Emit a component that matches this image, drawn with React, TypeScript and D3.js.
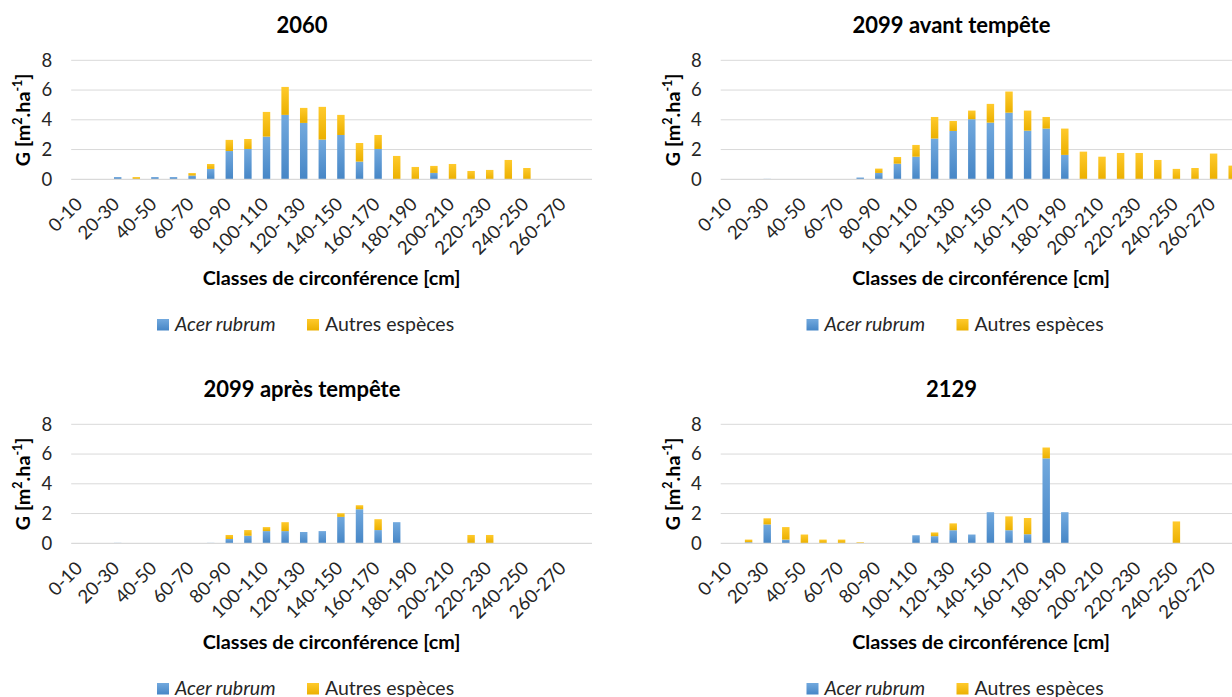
import { useEffect, useRef } from 'react';
import * as d3 from 'd3';

const categories = [
  '0-10', '10-20', '20-30', '30-40', '40-50', '50-60', '60-70', '70-80', '80-90', '90-100',
  '100-110', '110-120', '120-130', '130-140', '140-150', '150-160', '160-170', '170-180',
  '180-190', '190-200', '200-210', '210-220', '220-230', '230-240', '240-250', '250-260',
  '260-270', '270-280',
];

const yTicks = [0, 2, 4, 6, 8];

// G [m².ha-1] per circumference class
const acer2060 = [0, 0, 0.15, 0, 0.15, 0.15, 0.25, 0.7, 1.9, 2.04, 2.87, 4.33, 3.79, 2.67, 2.98, 1.19, 2.04, 0, 0, 0.43, 0, 0, 0, 0, 0, 0, 0, 0];
const autres2060 = [0, 0, 0, 0.15, 0, 0, 0.17, 0.33, 0.75, 0.67, 1.66, 1.88, 1.01, 2.2, 1.35, 1.25, 0.94, 1.57, 0.83, 0.47, 1.03, 0.56, 0.63, 1.3, 0.76, 0, 0, 0];

const acerAvant = [0, 0, 0.03, 0, 0, 0, 0, 0.12, 0.43, 1.05, 1.52, 2.74, 3.25, 4.04, 3.81, 4.48, 3.27, 3.41, 1.64, 0, 0, 0, 0, 0, 0, 0, 0, 0];
const autresAvant = [0, 0, 0, 0, 0, 0, 0, 0, 0.29, 0.45, 0.79, 1.45, 0.67, 0.58, 1.26, 1.42, 1.35, 0.78, 1.77, 1.86, 1.52, 1.77, 1.77, 1.3, 0.7, 0.76, 1.73, 0.92];

const acerApres = [0, 0, 0.03, 0, 0, 0, 0, 0.03, 0.29, 0.51, 0.82, 0.82, 0.76, 0.82, 1.78, 2.29, 0.89, 1.42, 0, 0, 0, 0, 0, 0, 0, 0, 0, 0];
const autresApres = [0, 0, 0, 0, 0, 0, 0, 0, 0.27, 0.38, 0.27, 0.6, 0, 0, 0.24, 0.27, 0.73, 0, 0, 0, 0, 0.56, 0.56, 0, 0, 0, 0, 0];

const acer2129 = [0, 0.07, 1.27, 0.25, 0, 0, 0, 0, 0, 0, 0.54, 0.48, 0.88, 0.59, 2.09, 0.88, 0.61, 5.71, 2.09, 0, 0, 0, 0, 0, 0, 0, 0, 0];
const autres2129 = [0, 0.18, 0.41, 0.84, 0.59, 0.25, 0.25, 0.07, 0, 0, 0, 0.25, 0.46, 0, 0, 0.93, 1.09, 0.73, 0, 0, 0, 0, 0, 0, 1.47, 0, 0, 0];

const panels = [
  { title: '2060', acer: acer2060, autres: autres2060, dx: 0, dy: 0 },
  { title: '2099 avant tempête', acer: acerAvant, autres: autresAvant, dx: 649.5, dy: 0 },
  { title: '2099 après tempête', acer: acerApres, autres: autresApres, dx: 0, dy: 364 },
  { title: '2129', acer: acer2129, autres: autres2129, dx: 649.5, dy: 364 },
];

const FONT = 'Lato, "Open Sans", sans-serif';
const TICK = '#262626';

export default function App() {
  const svgRef = useRef<SVGSVGElement | null>(null);

  useEffect(() => {
    if (!svgRef.current) return;
    const root = d3.select(svgRef.current);
    root.selectAll('*').remove();

    const defs = root.append('defs');
    const addGrad = (id: string, top: string, bottom: string) => {
      const g = defs.append('linearGradient')
        .attr('id', id)
        .attr('x1', 0).attr('y1', 0)
        .attr('x2', 0).attr('y2', 1);
      g.append('stop').attr('offset', '0%').attr('stop-color', top);
      g.append('stop').attr('offset', '100%').attr('stop-color', bottom);
    };
    addGrad('gradAcer', '#72a9de', '#4686c6');
    addGrad('gradAutres', '#ffca2c', '#ebb000');

    const left = 71.2, right = 592, top = 60.3, bottom = 179.3;

    panels.forEach((p) => {
      const svg = root.append('g').attr('transform', `translate(${p.dx},${p.dy})`);

      const table = categories.map((c, i) => ({ cat: c, acer: p.acer[i], autres: p.autres[i] }));
      const series = d3.stack<any>().keys(['acer', 'autres'])(table);

      const x = d3.scaleBand()
        .domain(categories)
        .range([left, right])
        .paddingInner(0.6)
        .paddingOuter(0.3);
      const y = d3.scaleLinear().domain([0, 8]).range([bottom, top]);

      // Title
      svg.append('text')
        .attr('x', 302).attr('y', 33)
        .attr('text-anchor', 'middle')
        .attr('font-family', FONT)
        .attr('font-weight', 700)
        .attr('font-size', '22px')
        .attr('fill', '#000')
        .text(p.title);

      // Grid lines
      svg.append('g')
        .selectAll('line')
        .data(yTicks.filter((t) => t > 0))
        .join('line')
        .attr('x1', left).attr('x2', right)
        .attr('y1', (d) => y(d)).attr('y2', (d) => y(d))
        .attr('stroke', '#d9d9d9')
        .attr('stroke-width', 1);

      // Y axis labels
      const yAxis = svg.append('g')
        .attr('transform', `translate(${left},0)`)
        .call(d3.axisLeft(y).tickValues(yTicks).tickSize(0).tickPadding(19).tickFormat(d3.format('d')));
      yAxis.select('.domain').remove();
      yAxis.selectAll('text')
        .attr('font-family', FONT)
        .attr('font-size', '18.5px')
        .attr('fill', TICK);

      // Bars
      const names = ['gradAcer', 'gradAutres'];
      svg.append('g')
        .selectAll('g')
        .data(series)
        .join('g')
        .attr('fill', (_, i) => `url(#${names[i]})`)
        .selectAll('rect')
        .data((s) => s.filter((d) => d[1] - d[0] > 0))
        .join('rect')
        .attr('x', (d) => x(d.data.cat) as number)
        .attr('width', x.bandwidth())
        .attr('y', (d) => y(d[1]))
        .attr('height', (d) => y(d[0]) - y(d[1]));

      // Category axis line
      svg.append('line')
        .attr('x1', left).attr('x2', right)
        .attr('y1', y(0)).attr('y2', y(0))
        .attr('stroke', '#d9d9d9')
        .attr('stroke-width', 1.2);

      // X axis labels
      const xAxis = svg.append('g')
        .attr('transform', `translate(0,${bottom})`)
        .call(d3.axisBottom(x).tickValues(categories.filter((_, i) => i % 2 === 0)).tickSize(0));
      xAxis.select('.domain').remove();
      xAxis.selectAll('text')
        .attr('x', 0).attr('y', 0).attr('dy', 0)
        .attr('transform', 'translate(3,26) rotate(-45)')
        .attr('text-anchor', 'end')
        .attr('font-family', FONT)
        .attr('font-size', '18.5px')
        .attr('fill', TICK);

      // Axis titles
      svg.append('text')
        .attr('x', (left + right) / 2).attr('y', 285)
        .attr('text-anchor', 'middle')
        .attr('font-family', FONT)
        .attr('font-weight', 700)
        .attr('font-size', '19.8px')
        .attr('fill', '#000')
        .text('Classes de circonférence [cm]');

      const yt = svg.append('text')
        .attr('transform', `translate(30,${(top + bottom) / 2}) rotate(-90)`)
        .attr('text-anchor', 'middle')
        .attr('font-family', FONT)
        .attr('font-weight', 700)
        .attr('font-size', '19.8px')
        .attr('fill', '#000');
      yt.append('tspan').text('G [m');
      yt.append('tspan').attr('font-size', '12.5px').attr('dy', -8).text('2');
      yt.append('tspan').attr('dy', 8).text('.ha');
      yt.append('tspan').attr('font-size', '12.5px').attr('dy', -8).text('-1');
      yt.append('tspan').attr('dy', 8).text(']');

      // Legend
      const lg = svg.append('g').attr('transform', 'translate(157,319)');
      lg.append('rect').attr('width', 12).attr('height', 11.5).attr('fill', 'url(#gradAcer)');
      lg.append('text')
        .attr('x', 18).attr('y', 12)
        .attr('font-family', FONT)
        .attr('font-style', 'italic')
        .attr('font-size', '19.5px')
        .attr('fill', TICK)
        .text('Acer rubrum');
      lg.append('rect').attr('x', 150).attr('width', 12).attr('height', 11.5).attr('fill', 'url(#gradAutres)');
      lg.append('text')
        .attr('x', 168).attr('y', 12)
        .attr('font-family', FONT)
        .attr('font-size', '19.5px')
        .attr('fill', TICK)
        .text('Autres espèces');
    });
  }, []);

  return (
    <svg
      ref={svgRef}
      width={1232}
      height={697}
      style={{ position: 'absolute', left: 0, top: 0, background: '#fff' }}
    />
  );
}
